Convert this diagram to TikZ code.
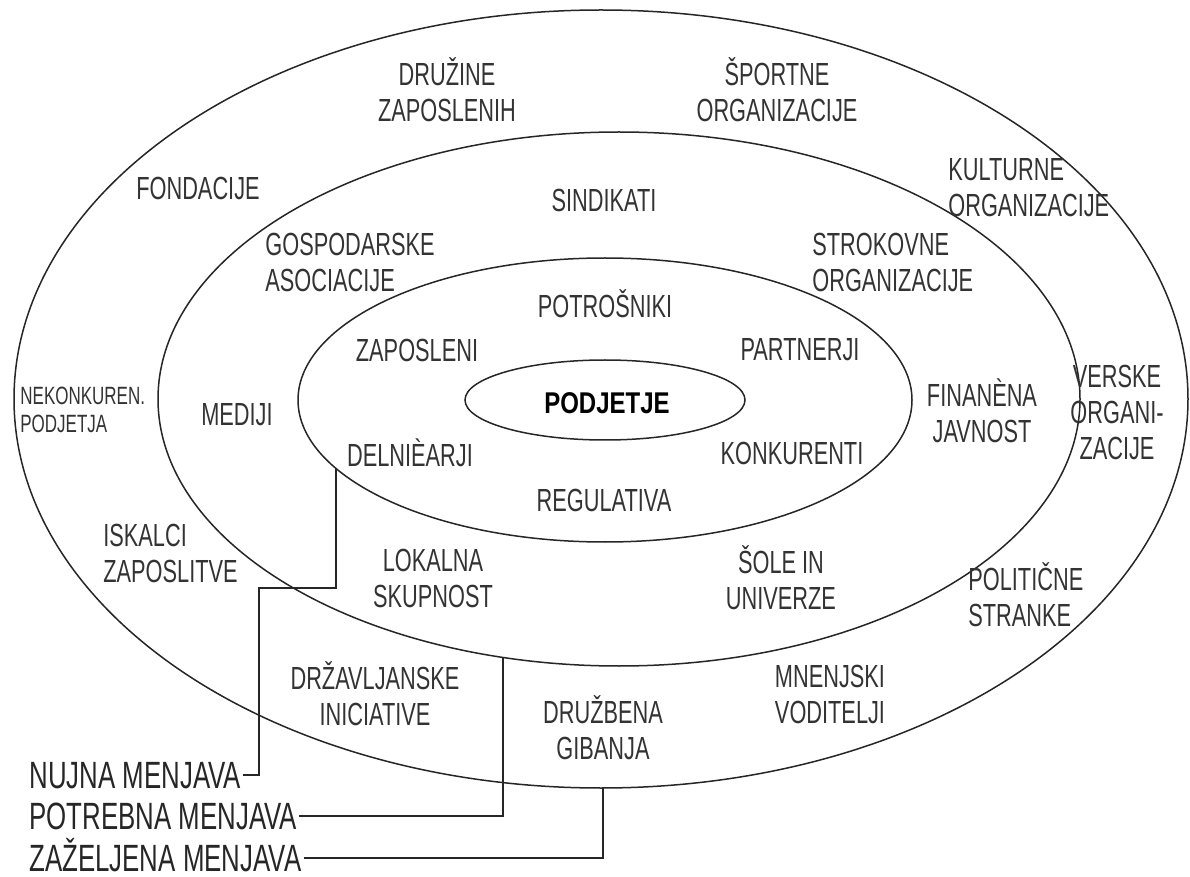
\documentclass[tikz,border=0pt]{standalone}
\usepackage{fontspec}
\setmainfont{Liberation Sans}
\newfontfamily\narrowfont{Liberation Sans}[FakeStretch=0.68]
\newfontfamily\corefont{Liberation Sans}[FakeStretch=0.8]
\usetikzlibrary{calc}

\begin{document}
\begin{tikzpicture}[x=0.5pt,y=-0.5pt,
    ring/.style={font=\narrowfont\fontsize{16}{18}\selectfont,text=black!80,align=center,inner sep=0pt},
    change/.style={font=\narrowfont\fontsize{19}{21}\selectfont,text=black!85,anchor=west,inner sep=1pt,text height=13pt,text depth=0pt},
    shell/.style={line width=0.75pt,black!85},
    link/.style={line width=0.9pt,black!85}]
    \useasboundingbox (0,0) rectangle (1190,877);

    % the four rings
    \coordinate (hub) at (605,400);
    \coordinate (midc) at (619,399);
    \coordinate (outc) at (601,399);
    \draw [shell] (outc) ellipse [x radius=587, y radius=389];
    \draw [shell] (midc) ellipse [x radius=461, y radius=267];
    \draw [shell] (hub) ellipse [x radius=307, y radius=142];
    \draw [shell] (hub) ellipse [x radius=140, y radius=40];

    \node (podjetje) [inner sep=0pt,font=\corefont\bfseries\fontsize{15}{17}\selectfont] at (607,403) {PODJETJE};

    % inner ring
    \node (potrosniki) [ring] at (605,304) {POTROŠNIKI};
    \node (zaposleni)  [ring] at (417,350) {ZAPOSLENI};
    \node (partnerji)  [ring] at (800,350) {PARTNERJI};
    \node (delnicarji) [ring] at (410,453) {DELNIÈARJI};
    \node (konkurenti) [ring] at (792,453) {KONKURENTI};
    \node (regulativa) [ring] at (604,500) {REGULATIVA};

    % middle ring
    \node (sindikati)   [ring] at (604,200) {SINDIKATI};
    \node (gospodarske) [ring,anchor=west,align=left] at (265,262) {GOSPODARSKE\\ASOCIACIJE};
    \node (strokovne)   [ring,anchor=west,align=left] at (812,262) {STROKOVNE\\ORGANIZACIJE};
    \node (mediji)      [ring] at (237,415) {MEDIJI};
    \node (financna)    [ring] at (982,411) {FINANÈNA\\JAVNOST};
    \node (lokalna)     [ring] at (433,578) {LOKALNA\\SKUPNOST};
    \node (sole)        [ring] at (781,578) {ŠOLE IN\\UNIVERZE};

    % outer ring
    \node (druzine)   [ring] at (447,90) {DRUŽINE\\ZAPOSLENIH};
    \node (sportne)   [ring] at (777,90) {ŠPORTNE\\ORGANIZACIJE};
    \node (fondacije) [ring] at (198,188) {FONDACIJE};
    \node (kulturne)  [ring,anchor=west,align=left] at (948,188) {KULTURNE\\ORGANIZACIJE};
    \node (nekonkuren) [ring,anchor=west,align=left,font=\narrowfont\fontsize{12.5}{14}\selectfont] at (20,410) {NEKONKUREN.\\PODJETJA};
    \node (verske)    [ring] at (1117,412) {VERSKE\\ORGANI-\\ZACIJE};
    \node (iskalci)   [ring,anchor=west,align=left] at (103,553) {ISKALCI\\ZAPOSLITVE};
    \node (politicne) [ring,anchor=west,align=left] at (968,595) {POLITIČNE\\STRANKE};
    \node (drzavljanske) [ring] at (375,694) {DRŽAVLJANSKE\\INICIATIVE};
    \node (druzbena)  [ring] at (603,728) {DRUŽBENA\\GIBANJA};
    \node (mnenjski)  [ring] at (830,694) {MNENJSKI\\VODITELJI};

    % kinds of change
    \node (nujna)     [change] at (27,775) {NUJNA MENJAVA};
    \node (potrebna)  [change] at (27,816) {POTREBNA MENJAVA};
    \node (zazeljena) [change] at (27,858) {ZAŽELJENA MENJAVA};

    \coordinate (k1) at (259,588);
    \coordinate (e1) at ($(hub)+(151.2:307 and 142)$);
    \coordinate (e2) at ($(midc)+(104.57:461 and 267)$);
    \coordinate (e3) at ($(outc)+(89.8:587 and 389)$);
    \draw [link] (nujna.east) -| (k1) -| (e1);
    \draw [link] (potrebna.east) -| (e2);
    \draw [link] (zazeljena.east) -| (e3);
\end{tikzpicture}
\end{document}
